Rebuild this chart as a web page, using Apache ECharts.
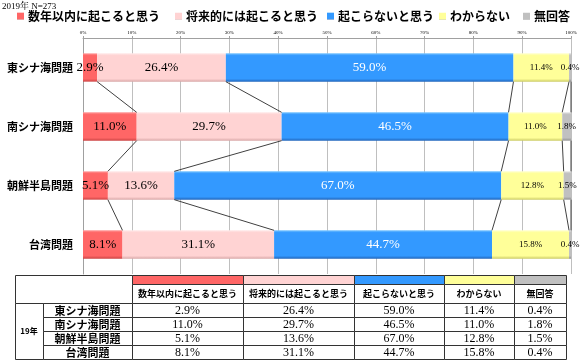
<!DOCTYPE html>
<html><head><meta charset="utf-8">
<script src="https://cdn.jsdelivr.net/npm/echarts@6/dist/echarts.min.js"></script>
<style>html,body{margin:0;padding:0;background:#fff}#c{width:580px;height:363px}</style>
</head><body><div id="c"></div>
<script>
// ---- data ----
const categories = ['東シナ海問題', '南シナ海問題', '朝鮮半島問題', '台湾問題'];
const seriesNames = ['数年以内に起こると思う', '将来的には起こると思う', '起こらないと思う', 'わからない', '無回答'];
const soon = [2.9, 11.0, 5.1, 8.1];
const future = [26.4, 29.7, 13.6, 31.1];
const never = [59.0, 46.5, 67.0, 44.7];
const unknown = [11.4, 11.0, 12.8, 15.8];
const noAnswer = [0.4, 1.8, 1.5, 0.4];
const xTicks = [0, 10, 20, 30, 40, 50, 60, 70, 80, 90, 100];
const title = '2019年 N=273';
const yearLabel = '19年';

// ---- styling ----
const colors = ['#FF6666', '#FFD3D3', '#3399FF', '#FFFF99', '#C0C0C0'];
const lightC = ['#FF9999', '#FFE8E8', '#77C4FF', '#FFFFCC', '#E0E0E0'];
const darkC = ['#CC4444', '#D9A8A8', '#2266BB', '#CCCC66', '#909090'];
const serif = '"Liberation Serif", "Noto Serif CJK JP", serif';
const gothic = '"Noto Sans CJK JP", sans-serif';
const allVals = [soon, future, never, unknown, noAnswer];
const sums = categories.map((_, i) => allVals.reduce((s, a) => s + a[i], 0));
const barRatio = 0.48;

function grad(k) {
  return new echarts.graphic.LinearGradient(0, 0, 0, 1, [
    {offset: 0, color: lightC[k]}, {offset: 0.08, color: colors[k]},
    {offset: 0.9, color: colors[k]}, {offset: 1, color: darkC[k]}
  ]);
}

const barSeries = allVals.map((arr, k) => ({
  name: seriesNames[k], type: 'bar', stack: 'total', barWidth: (barRatio * 100) + '%',
  data: arr.map((v, i) => ({value: v / sums[i] * 100, raw: v})),
  itemStyle: {color: grad(k)},
  label: {
    show: true, position: 'inside',
    formatter: p => arr[p.dataIndex].toFixed(1) + '%',
    color: k === 2 ? '#fff' : '#000',
    fontFamily: serif, fontSize: k >= 3 ? 9 : 13
  },
  emphasis: {disabled: true}
}));

// series lines data
const lineData = [];
for (let i = 0; i < categories.length - 1; i++) {
  let c1 = 0, c2 = 0;
  for (let k = 0; k < allVals.length; k++) {
    c1 += allVals[k][i] / sums[i] * 100;
    c2 += allVals[k][i + 1] / sums[i + 1] * 100;
    lineData.push([c1, i, c2, i + 1]);
  }
}

const lineSeries = {
  type: 'custom', silent: true, z: 5,
  encode: {x: [0, 2], y: [1, 3]},
  data: lineData,
  renderItem: (params, api) => {
    const p1 = api.coord([api.value(0), api.value(1)]);
    const p2 = api.coord([api.value(2), api.value(3)]);
    const half = api.size([0, 1])[1] * barRatio / 2;
    return {type: 'line', shape: {x1: p1[0], y1: p1[1] + half, x2: p2[0], y2: p2[1] - half},
      style: {stroke: '#404040', lineWidth: 1}};
  }
};

// legends
const legendLeft = [17, 175, 327, 439, 523];
const legends = seriesNames.map((n, k) => ({
  data: [n], left: legendLeft[k], top: 10, padding: 0,
  itemWidth: 7, itemHeight: 7, icon: 'rect', itemGap: 4,
  textStyle: {fontFamily: gothic, fontWeight: 'bold', fontSize: 12, color: '#000', padding: [0, 0, 0, -1]},
  selectedMode: false
}));

// table
const colX = [15, 43, 132, 243, 354, 444, 514, 566];
const rowY = [275, 284, 303, 317, 331, 345, 359];
const g = [];
const line = '#333';
function rect(x, y, w, h, fill) {
  g.push({type: 'rect', shape: {x: x + 0.5, y: y + 0.5, width: w, height: h},
    style: {fill: fill, stroke: line, lineWidth: 1}, silent: true});
}
function text(t, x, y, font, align) {
  g.push({type: 'text', x: x, y: y, silent: true,
    style: {text: t, font: font, fill: '#000', align: align || 'center', verticalAlign: 'middle'}});
}
rect(colX[0], rowY[0], colX[2] - colX[0], rowY[2] - rowY[0], '#fff');
for (let k = 0; k < 5; k++) {
  const x0 = colX[k + 2], w = colX[k + 3] - x0;
  rect(x0, rowY[0], w, rowY[1] - rowY[0], colors[k]);
  rect(x0, rowY[1], w, rowY[2] - rowY[1], '#fff');
  text(seriesNames[k], x0 + w / 2, (rowY[1] + rowY[2]) / 2, 'bold 9px ' + gothic);
}
rect(colX[0], rowY[2], colX[1] - colX[0], rowY[6] - rowY[2], '#fff');
text(yearLabel, (colX[0] + colX[1]) / 2, (rowY[2] + rowY[6]) / 2, 'bold 8px ' + gothic);
for (let i = 0; i < categories.length; i++) {
  const y0 = rowY[i + 2], h = rowY[i + 3] - y0;
  rect(colX[1], y0, colX[2] - colX[1], h, '#fff');
  text(categories[i], (colX[1] + colX[2]) / 2, y0 + h / 2 + 0.5, 'bold 11px ' + gothic);
  for (let k = 0; k < 5; k++) {
    const x0 = colX[k + 2], w = colX[k + 3] - x0;
    rect(x0, y0, w, h, '#fff');
    text(allVals[k][i].toFixed(1) + '%', x0 + w / 2, y0 + h / 2 + 0.5, '12px ' + serif);
  }
}
g.push({type: 'text', x: 2, y: 7, silent: true,
  style: {text: title, font: '9px ' + serif, fill: '#000', align: 'left', verticalAlign: 'middle'}});

const chart = echarts.init(document.getElementById('c'), null, {renderer: 'canvas'});
chart.setOption({
  animation: false,
  legend: legends,
  grid: {left: 83, right: 9, top: 38, height: 236, containLabel: false},
  xAxis: {
    type: 'value', position: 'top', min: 0, max: 100, interval: 10,
    axisLine: {show: true, lineStyle: {color: '#A0A0A0'}},
    axisTick: {show: true, length: 2, lineStyle: {color: '#A0A0A0'}},
    axisLabel: {fontSize: 5, margin: 3, color: '#000', fontFamily: serif, formatter: v => v + '%'},
    splitLine: {show: true, lineStyle: {color: '#BFBFBF'}}
  },
  yAxis: {
    type: 'category', data: categories, inverse: true,
    axisLine: {show: true, lineStyle: {color: '#A0A0A0'}}, axisTick: {show: false},
    axisLabel: {fontFamily: gothic, fontWeight: 'bold', fontSize: 11, color: '#000', margin: 10}
  },
  series: barSeries.concat([lineSeries]),
  graphic: g
});
</script></body></html>
